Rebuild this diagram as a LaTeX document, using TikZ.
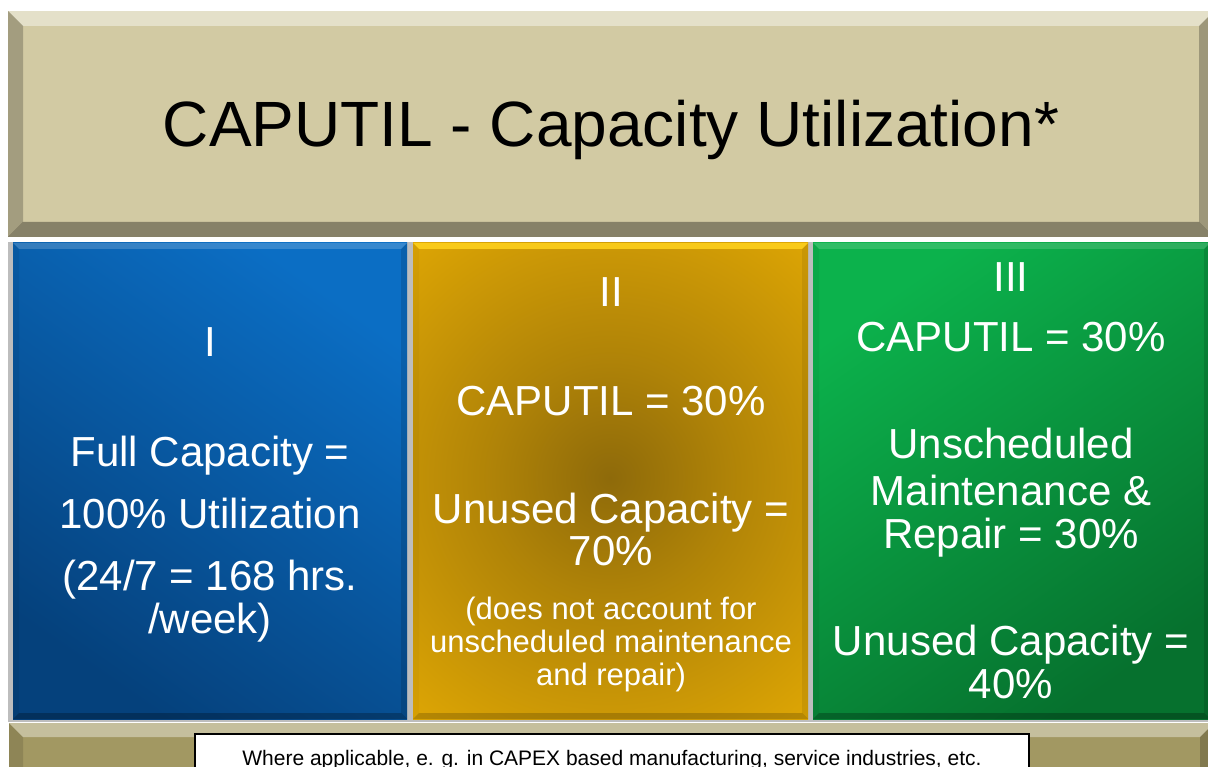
\documentclass[tikz,border=0pt]{standalone}
\usepackage{fontspec}
\setmainfont{Liberation Sans}
\definecolor{tanface}{HTML}{D2CAA3}
\definecolor{tandark}{HTML}{A29862}
\definecolor{bluelight}{HTML}{0B6EC4}
\definecolor{bluedark}{HTML}{05417C}
\definecolor{goldface}{HTML}{E2A904}
\definecolor{golddark}{HTML}{8E6A0A}
\definecolor{goldrim}{HTML}{FFD21E}
\definecolor{greenlight}{HTML}{0CB24C}
\definecolor{greendark}{HTML}{06712E}
\definecolor{framegray}{HTML}{BDBDBD}

% dark glow in the middle of the gold panel
\pgfdeclareradialshading{goldglow}{\pgfpoint{0bp}{0bp}}{%
  color(0bp)=(golddark); color(9bp)=(golddark!60!goldface);
  color(25bp)=(goldface); color(50bp)=(goldface)}

% bevelled edges laid over a filled face: x1, y1, x2, y2, width, top/left/bottom/right strength
\newcommand\bevelrim[9]{%
  \fill[white,opacity=#6] (#1,#2) -- (#3,#2) -- (#3-#5,#2+#5) -- (#1+#5,#2+#5) -- cycle;
  \fill[black,opacity=#7] (#1,#2) -- (#1+#5,#2+#5) -- (#1+#5,#4-#5) -- (#1,#4) -- cycle;
  \fill[black,opacity=#8] (#1,#4) -- (#1+#5,#4-#5) -- (#3-#5,#4-#5) -- (#3,#4) -- cycle;
  \fill[black,opacity=#9] (#3,#2) -- (#3,#4) -- (#3-#5,#4-#5) -- (#3-#5,#2+#5) -- cycle;
}

\tikzset{
  titletext/.style={anchor=base, inner sep=0pt, text=black, font=\fontsize{64}{70}\selectfont},
  paneltext/.style={anchor=base, inner sep=0pt, text=white, font=\fontsize{42}{48}\selectfont},
  smalltext/.style={anchor=base, inner sep=0pt, text=white, font=\fontsize{31}{36}\selectfont},
  notetext/.style={anchor=base, inner sep=0pt, text=black, font=\fontsize{21}{24}\selectfont},
}

\begin{document}
\begin{tikzpicture}[x=1pt,y=-1pt]
\useasboundingbox (0,0) rectangle (1208,767);
\clip (0,0) rectangle (1208,767);
\fill[white] (0,0) rectangle (1208,767);

% title bar
\fill[tanface] (8,11) rectangle (1214,237);
\bevelrim{8}{11}{1214}{237}{15}{0.42}{0.22}{0.36}{0.25}
\node[titletext] (title) at (611,147) {CAPUTIL - Capacity Utilization*};

% frames behind the three panels
\fill[framegray] (8,240) rectangle (1214,722);
\fill[white] (8,237) rectangle (1214,242);

% panel I
\shade[shading=axis, top color=bluelight, bottom color=bluedark, shading angle=-35]
  (13,243) rectangle (407,719);
\bevelrim{13}{243}{407}{719}{6}{0.18}{0.06}{0.25}{0.12}

% panel II
\fill[goldface] (413,243) rectangle (808,719);
\begin{scope}
  \clip (413,243) rectangle (808,719);
  \shade[shading=goldglow] (610,478) circle (330);
\end{scope}
\fill[goldrim,opacity=0.85] (413,243) -- (808,243) -- (802,249) -- (419,249) -- cycle;
\bevelrim{413}{243}{808}{719}{6}{0}{0.03}{0.18}{0.08}

% panel III
\shade[shading=axis, top color=greenlight, bottom color=greendark, shading angle=35]
  (813,243) rectangle (1210,719);
\bevelrim{813}{243}{1210}{719}{6}{0.15}{0.05}{0.25}{0.12}

% panel I text
\node[paneltext] (p1num)  at (210,357) {I};
\node[paneltext] (p1a)    at (210,466) {Full Capacity =};
\node[paneltext] (p1b)    at (210,528) {100\% Utilization};
\node[paneltext] (p1c)    at (210,590) {(24/7 = 168 hrs.};
\node[paneltext] (p1d)    at (210,633) {/week)};

% panel II text
\node[paneltext] (p2num)  at (611,307) {II};
\node[paneltext] (p2a)    at (611,415) {CAPUTIL = 30\%};
\node[paneltext] (p2b)    at (611,523) {Unused Capacity =};
\node[paneltext] (p2c)    at (611,565) {70\%};
\node[smalltext] (p2d)    at (611,619) {(does not account for};
\node[smalltext] (p2e)    at (611,652) {unscheduled maintenance};
\node[smalltext] (p2f)    at (611,685) {and repair)};

% panel III text
\node[paneltext] (p3num)  at (1011,292) {III};
\node[paneltext] (p3a)    at (1011,352) {CAPUTIL = 30\%};
\node[paneltext] (p3b)    at (1011,458) {Unscheduled};
\node[paneltext] (p3c)    at (1011,505) {Maintenance \&};
\node[paneltext] (p3d)    at (1011,548) {Repair = 30\%};
\node[paneltext] (p3e)    at (1011,655) {Unused Capacity =};
\node[paneltext] (p3f)    at (1011,698) {40\%};

% footer bar
\fill[tandark] (9,723) rectangle (1214,790);
\bevelrim{9}{723}{1214}{790}{14}{0.38}{0.12}{0.3}{0.2}

% footnote box
\draw[fill=white, draw=black, line width=2pt] (195,734) rectangle (1029,785);
\node[notetext] (note) at (612,765) {Where applicable, e. g. in CAPEX based manufacturing, service industries, etc.};
\end{tikzpicture}
\end{document}
